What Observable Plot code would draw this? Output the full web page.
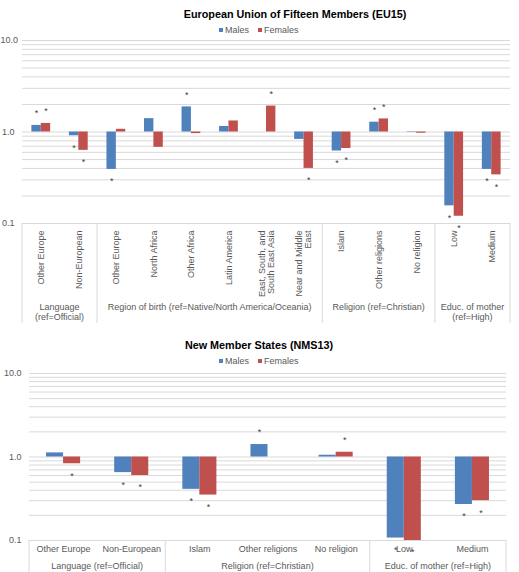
<!DOCTYPE html>
<html><head><meta charset="utf-8">
<script src="https://cdn.jsdelivr.net/npm/d3@7"></script>
<script src="https://cdn.jsdelivr.net/npm/@observablehq/plot@0.6"></script>
<style>
body{margin:0;background:#fff;font-family:"Liberation Sans",Arial,sans-serif;}
#wrap{position:relative;width:519px;height:572px;overflow:hidden;background:#fff;}
.title{position:absolute;font-weight:bold;font-size:10.8px;color:#000;white-space:nowrap;transform:translateX(-50%);line-height:14px;}
.legend{position:absolute;font-size:9px;color:#595959;white-space:nowrap;transform:translateX(-50%);line-height:12px;}
.sw{display:inline-block;width:4px;height:4px;margin-right:2.5px;vertical-align:middle;position:relative;top:-1px;}
.gap{display:inline-block;width:8.5px;}
.panel{position:absolute;left:0;}
</style></head>
<body>
<div id="wrap">
  <div class="title" style="left:295px;top:6.5px">European Union of Fifteen Members (EU15)</div>
  <div class="legend" style="left:258.5px;top:24px"><span class="sw" style="background:#4F81BD"></span>Males<span class="gap"></span><span class="sw" style="background:#C0504D"></span>Females</div>
  <div class="panel" id="p1" style="top:34px"></div>
  <div class="title" style="left:259px;top:338px">New Member States (NMS13)</div>
  <div class="legend" style="left:258.5px;top:355px"><span class="sw" style="background:#4F81BD"></span>Males<span class="gap"></span><span class="sw" style="background:#C0504D"></span>Females</div>
  <div class="panel" id="p2" style="top:366px"></div>
</div>
<script>
// ---- EU15 data ----
const eu15Groups = ["Language\n(ref=Official)", "Region of birth (ref=Native/North America/Oceania)", "Religion (ref=Christian)", "Educ. of mother\n(ref=High)"];
const eu15GroupOf = [0,0,1,1,1,1,1,1,2,2,2,3,3];
const eu15Categories = ["Other Europe","Non-European","Other Europe","North Africa","Other Africa","Latin America","East, South, and\nSouth East Asia","Near and Middle\nEast","Islam","Other religions","No religion","Low","Medium"];
const eu15Males   = [1.18,0.91,0.39,1.40,1.88,1.15,null,0.83,0.62,1.28,0.99,0.156,0.39];
const eu15Females = [1.24,0.63,1.07,0.68,0.96,1.32,1.92,0.40,0.66,1.39,0.97,0.12,0.34];
const eu15MaleSig   = [1,1,1,0,1,0,0,0,1,1,0,1,1];
const eu15FemaleSig = [1,1,0,0,0,0,1,1,1,1,0,1,1];

// ---- NMS13 data ----
const nmsGroups = ["Language (ref=Official)","Religion (ref=Christian)","Educ. of mother (ref=High)"];
const nmsGroupOf = [0,0,1,1,1,2,2];
const nmsCategories = ["Other Europe","Non-European","Islam","Other religions","No religion","Low","Medium"];
const nmsMales   = [1.12,0.65,0.41,1.41,1.05,0.107,0.27];
const nmsFemales = [0.83,0.60,0.35,null,1.14,0.10,0.30];
const nmsMaleSig   = [0,1,1,1,0,1,1];
const nmsFemaleSig = [1,1,1,0,1,1,1];

const yTickValues = [0.1, 1, 10];
const MALE = "#4F81BD", FEMALE = "#C0504D";
const FONT = "'Liberation Sans', Arial, sans-serif";

function panel(o) {
  const rows = o.cats.map((c,i)=>({key:String(i), cat:c, m:o.males[i], f:o.females[i], ms:o.maleSig[i], fs:o.femaleSig[i]}));
  const n = rows.length;
  const bw = (o.width - o.ml - o.mr) / n;
  const grid = d3.scaleLog().domain([0.1,10]).ticks();
  const stars = [];
  rows.forEach(r=>{
    if (r.ms && r.m!=null) stars.push({key:r.key, v:r.m, sex:"M"});
    if (r.fs && r.f!=null) stars.push({key:r.key, v:r.f, sex:"F"});
  });
  const starMark = (sex, up) => Plot.text(stars.filter(s=>s.sex===sex && (s.v>1)===up),
    {x:"key", y:"v", text:()=>"*", dx: sex==="M" ? -bw*0.125 : bw*0.125, dy: up ? -12 : 12, fontSize:9, fill:"#404040"});
  const catLabel = o.rotate
    ? Plot.text(rows, {x:"key", text:"cat", frameAnchor:"bottom", rotate:-90, textAnchor:"end", lineAnchor:"middle", dy:o.catDy, fontSize:9, fill:"#595959"})
    : Plot.text(rows, {x:"key", text:"cat", frameAnchor:"bottom", dy:o.catDy, fontSize:9, fill:"#595959"});
  const svg = Plot.plot({
    width:o.width, height:o.height, marginTop:o.mt, marginBottom:o.mb, marginLeft:o.ml, marginRight:o.mr,
    x:{type:"band", domain:rows.map(r=>r.key), padding:0, round:false, axis:null},
    y:{type:"log", domain:[0.1,10], axis:null},
    style:{fontFamily:FONT, fontSize:"9px", background:"transparent", overflow:"visible"},
    marks:[
      Plot.ruleY(grid, {stroke:"#d9d9d9", strokeWidth:1}),
      Plot.barY(rows.filter(r=>r.m!=null), {x:"key", y1:1, y2:"m", fill:MALE, insetLeft:bw*0.25, insetRight:bw*0.5}),
      Plot.barY(rows.filter(r=>r.f!=null), {x:"key", y1:1, y2:"f", fill:FEMALE, insetLeft:bw*0.5, insetRight:bw*0.25}),
      starMark("M", true), starMark("M", false), starMark("F", true), starMark("F", false),
      Plot.text(yTickValues, {y:d=>d, text:d=>d.toFixed(1), frameAnchor:"left", textAnchor:"end", dx:-8, fontSize:9, fill:"#595959", className:"ylab"}),
      catLabel
    ]
  });
  // group boxes and labels
  const sel = d3.select(svg);
  const g = sel.append("g").attr("font-family", FONT).attr("font-size", 9).attr("fill", "#595959");
  const y0 = o.height - o.mb;
  const bounds = [];
  o.groups.forEach((name, gi)=>{
    const idx = o.groupOf.map((v,i)=>v===gi?i:-1).filter(i=>i>=0);
    const start = idx[0], count = idx.length;
    bounds.push(o.ml + start*bw);
    const cx = o.ml + (start + count/2)*bw;
    const t = g.append("text").attr("text-anchor","middle");
    name.split("\n").forEach((line, li)=>{
      t.append("tspan").attr("x", cx).attr("y", o.groupY + li*10).text(line);
    });
  });
  bounds.push(o.width - o.mr);
  bounds.forEach(x=>{
    g.append("line").attr("x1",x).attr("x2",x).attr("y1",y0).attr("y2",o.sepY2).attr("stroke","#d9d9d9");
  });
  return svg;
}

function keepInside(svg) {
  // shift any y-tick label that would fall off the left edge so it stays readable
  svg.querySelectorAll("text").forEach(t=>{
    const b = t.getBBox();
    const m = t.getCTM();
    if (!m) return;
    const left = m.e + b.x * m.a;
    if (left < 0.5) {
      const shift = 0.5 - left;
      const prev = t.getAttribute("transform") || "";
      t.setAttribute("transform", `translate(${shift},0) ${prev}`);
    }
  });
}

const s1 = panel({
  cats:eu15Categories, groups:eu15Groups, groupOf:eu15GroupOf, males:eu15Males, females:eu15Females,
  maleSig:eu15MaleSig, femaleSig:eu15FemaleSig,
  width:519, height:292, mt:6, mb:103, ml:22, mr:9, rotate:true, catDy:7, groupY:276.3, sepY2:289
});
document.getElementById("p1").appendChild(s1);
const s2 = panel({
  cats:nmsCategories, groups:nmsGroups, groupOf:nmsGroupOf, males:nmsMales, females:nmsFemales,
  maleSig:nmsMaleSig, femaleSig:nmsFemaleSig,
  width:519, height:206, mt:7, mb:32, ml:29, mr:13, rotate:false, catDy:11, groupY:203.2, sepY2:206
});
document.getElementById("p2").appendChild(s2);
try { keepInside(s1); keepInside(s2); } catch(e) {}
</script>
</body></html>
